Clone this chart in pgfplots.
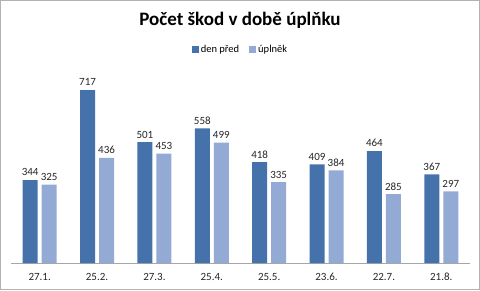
\documentclass[border=0pt]{standalone}
\usepackage{fontspec}
\setmainfont{Carlito}
\usepackage{pgfplots}
\pgfplotsset{compat=1.18}
\definecolor{c1}{HTML}{4672AB}
\definecolor{c2}{HTML}{93AAD5}
\begin{document}
\begin{tikzpicture}[x=1pt,y=1pt]
\draw[gray!60, line width=1pt, fill=white] (0.5,0.5) rectangle (479.5,289.5);
\node[font=\fontsize{19}{22}\selectfont\bfseries] at (240,270) {Počet škod v době úplňku};
\begin{axis}[at={(11pt,27pt)}, anchor=south west, scale only axis, width=459pt, height=193pt,
  ybar=4pt, bar width=15pt, ymin=0, ymax=800, xmin=-0.5, xmax=7.5,
  axis x line*=bottom, axis y line=none, x axis line style={-, gray!70},
  xtick={0,...,7}, xticklabels={27.1.,25.2.,27.3.,25.4.,25.5.,23.6.,22.7.,21.8.},
  xtick style={draw=none}, ytick=\empty,
  tick label style={font=\fontsize{11}{13}\selectfont, text=black!85},
  xticklabel style={yshift=-2.5pt},
  /pgf/number format/assume math mode=true,
  nodes near coords,
  every node near coord/.append style={font=\fontsize{11}{13}\selectfont, text=black!85, yshift=0.5pt},
  legend columns=2,
  legend style={at={(axis description cs:0.5,1.105)}, anchor=center, draw=none, fill=none,
    font=\fontsize{10.5}{12}\selectfont, /tikz/every even column/.append style={column sep=8pt}},
  legend image code/.code={\fill[#1] (0pt,-3.5pt) rectangle (7pt,3.5pt);},
  clip=false]
\addplot[fill=c1, draw=none] coordinates {(0,344) (1,717) (2,501) (3,558) (4,418) (5,409) (6,464) (7,367)};
\addplot[fill=c2, draw=none] coordinates {(0,325) (1,436) (2,453) (3,499) (4,335) (5,384) (6,285) (7,297)};
\legend{den před, úplněk}
\end{axis}
\end{tikzpicture}
\end{document}
